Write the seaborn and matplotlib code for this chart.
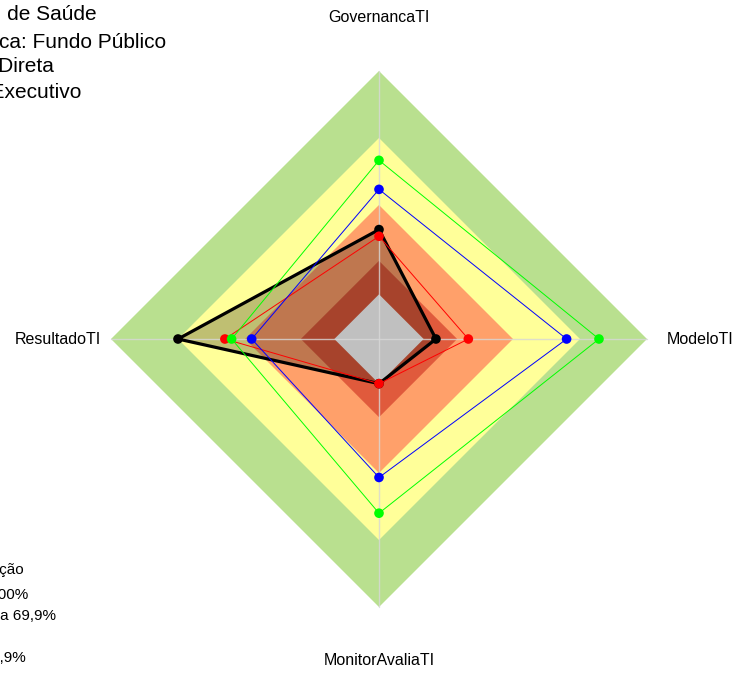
import numpy as np
import pandas as pd
import matplotlib
matplotlib.use("Agg")
import matplotlib.pyplot as plt
import seaborn as sns

# eixos do radar (sentido: topo, direita, baixo, esquerda)
eixos = ["GovernancaTI", "ModeloTI", "MonitorAvaliaTI", "ResultadoTI"]
angulos = [90, 0, -90, 180]

# valores das series (0 a 1)
entidade = [0.29, 0.055, 0.0, 0.70]
serie_vermelha = [0.26, 0.20, 0.0, 0.49]
serie_azul = [0.47, 0.64, 0.42, 0.37]
serie_verde = [0.60, 0.785, 0.58, 0.46]

# faixas de classificacao (limite superior de cada faixa)
faixas = [1.0, 0.70, 0.40, 0.15]
cores_faixas = ["#B9E08F", "#FFFF99", "#FFA06A", "#E05A3C"]

info = ["Secretaria Estadual de Saúde",
        "Natureza Jurídica: Fundo Público",
        "Administração Direta",
        "Poder Executivo"]
legenda = ["Classificação",
           "Aprimorado: 70% a 100%",
           "Intermediário: 40% a 69,9%",
           "Básico: 15% a 39,9%",
           "Inexpressivo: 0% a 14,9%"]

SEG = 5
FURO = 1 / (SEG + 1)


def raio(v):
    return FURO + np.asarray(v) * (1 - FURO)


theta = np.deg2rad(angulos)


def xy(valores):
    r = raio(valores)
    return r * np.cos(theta), r * np.sin(theta)


sns.set_style("white")
plt.rcParams["font.family"] = ["Liberation Sans", "DejaVu Sans"]
plt.rcParams["text.color"] = "black"

W, H = 737, 673
CX, CY, R = 379, 339, 268
fig = plt.figure(figsize=(W / 100, H / 100), dpi=100)
ax = fig.add_axes([0, 0, 1, 1])
ax.set_xlim(-CX / R, (W - CX) / R)
ax.set_ylim(-(H - CY) / R, CY / R)
ax.axis("off")

# faixas de fundo
for nivel, cor in zip(faixas, cores_faixas):
    x, y = xy([nivel] * 4)
    ax.fill(x, y, color=cor, lw=0, zorder=1)

# preenchimento da entidade
x, y = xy(entidade)
ax.fill(x, y, color="black", alpha=0.25, lw=0, zorder=2)

# furo central
x, y = xy([0] * 4)
ax.fill(x, y, color="#C0C0C0", lw=0, zorder=3)

# eixos
for t in theta:
    ax.plot([0, np.cos(t)], [0, np.sin(t)], color="#D8D8D8", lw=1, alpha=0.8, zorder=4)

# series
series = {"entidade": entidade, "vermelha": serie_vermelha,
          "azul": serie_azul, "verde": serie_verde}
estilos = {"entidade": ("black", 2.3), "vermelha": ("#FF0000", 0.7),
           "azul": ("#0000FF", 0.7), "verde": ("#00FF00", 0.7)}
z = 5
for nome, vals in series.items():
    x, y = xy(vals)
    df = pd.DataFrame({"x": np.append(x, x[0]), "y": np.append(y, y[0])})
    cor, lw = estilos[nome]
    sns.lineplot(data=df, x="x", y="y", sort=False, estimator=None, color=cor,
                 lw=lw, ax=ax, zorder=z, legend=False)
    sns.scatterplot(data=df.iloc[:4], x="x", y="y", color=cor, s=48,
                    edgecolor="none", ax=ax, zorder=z + 1, legend=False)
    z += 2
ax.set_xlabel("")
ax.set_ylabel("")

# rotulos dos eixos
for nome, t in zip(eixos, theta):
    ax.text(1.2 * np.cos(t), 1.2 * np.sin(t), nome, ha="center", va="center",
            fontsize=11.5, color="black")

# texto superior esquerdo (cortado na borda)
fins_info = [97, 166, 54, 81]
ys_info = [14, 42, 67, 92]
for txt, xe, ye in zip(info, fins_info, ys_info):
    fig.text(xe / W, 1 - ye / H, txt, ha="right", va="center", fontsize=15,
             color="black")

# legenda inferior esquerda (cortada na borda)
fins_leg = [24, 28, 56, -8, 26]
ys_leg = [570, 595, 616, 637, 658]
for txt, xe, ye in zip(legenda, fins_leg, ys_leg):
    fig.text(xe / W, 1 - ye / H, txt, ha="right", va="center", fontsize=11,
             color="black")

fig.savefig("out.png", dpi=100)
